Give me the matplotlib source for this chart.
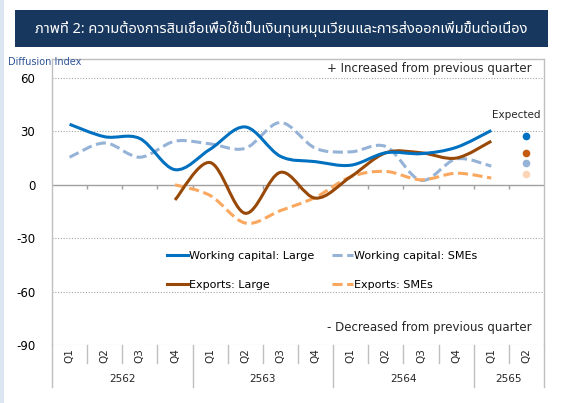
import matplotlib
matplotlib.use('Agg')
import matplotlib.pyplot as plt
import numpy as np
from matplotlib.path import Path
from matplotlib.patches import PathPatch, Rectangle
from matplotlib.lines import Line2D

# quarters 2562 Q1 .. 2565 Q2
quarters = ['Q1', 'Q2', 'Q3', 'Q4', 'Q1', 'Q2', 'Q3', 'Q4',
            'Q1', 'Q2', 'Q3', 'Q4', 'Q1', 'Q2']
years = ['2562', '2563', '2564', '2565']
year_sizes = [4, 4, 4, 2]

# working capital series start at 2562 Q1, exports at 2562 Q4
wc_large = [34, 27, 26, 8.5, 20, 32.5, 16, 13, 11, 18, 17.5, 21, 30.5]
wc_sme = [15.5, 23.5, 15.5, 24.5, 23, 20.5, 35, 20.5, 18.5, 21.5, 2.5, 14.5, 10.5]
exp_large = [-8.5, 12.5, -16, 7, -7.5, 4.5, 18, 18, 15, 24.5]
exp_sme = [0, -6, -21.5, -14.5, -7, 4.5, 7.5, 2.8, 6.5, 3.8]
exp_start = 3

# expected values for 2565 Q2
expected = {'wc_large': 27.5, 'exp_large': 18, 'wc_sme': 12, 'exp_sme': 6}

C_WCL = '#0070C0'
C_WCS = '#95B3D7'
C_EXL = '#984807'
C_EXS = '#FAA75F'
C_GRID = '#A6A6A6'

W, H = 563, 403
plt.rcParams['font.family'] = ['DejaVu Sans']
THAI = ['Noto Sans Thai', 'Tahoma', 'Loma', 'Garuda', 'Norasi', 'Waree', 'DejaVu Sans']


def fx(px):
    return px / W


def fy(py):
    return 1 - py / H


def smooth_path(x, y):
    # smoothed line like in Excel: cubic bezier between the points
    pts = np.column_stack([x, y]).astype(float)
    n = len(pts)
    verts = [pts[0]]
    codes = [Path.MOVETO]
    for i in range(n - 1):
        p0 = pts[i - 1] if i > 0 else pts[i]
        p1, p2 = pts[i], pts[i + 1]
        p3 = pts[i + 2] if i + 2 < n else pts[i + 1]
        verts += [p1 + (p2 - p0) / 6, p2 - (p3 - p1) / 6, p2]
        codes += [Path.CURVE4] * 3
    return Path(verts, codes)


fig = plt.figure(figsize=(W / 100, H / 100), dpi=100)
fig.patch.set_facecolor('white')
fig.patches.append(Rectangle((0, 0), fx(4), 1, transform=fig.transFigure,
                             facecolor='#DCE6F2', edgecolor='none'))
# title banner
fig.patches.append(Rectangle((fx(15), fy(47)), fx(533), fy(10) - fy(47),
                             transform=fig.transFigure, facecolor='#17375E',
                             edgecolor='none'))
fig.text(fx(281), fy(29), 'ภาพที่ 2: ความต้องการสินเชื่อเพื่อใช้เป็นเงินทุนหมุนเวียนและการส่งออกเพิ่มขึ้นต่อเนื่อง',
         color='white', fontsize=10.5, ha='center', va='center', family=THAI)

y_top = 60 + (78 - 59) / 1.78
ax = fig.add_axes([fx(52), fy(345), fx(492), fy(59) - fy(345)])
ax.set_xlim(0, len(quarters))
ax.set_ylim(-90, y_top)

for s in ['top', 'left', 'right']:
    ax.spines[s].set_color('#BFBFBF')
    ax.spines[s].set_linewidth(1)
ax.spines['bottom'].set_visible(False)

for v in [60, 30, -30, -60, -90]:
    ax.axhline(v, color=C_GRID, lw=0.8, ls=(0, (1, 1.5)), zorder=1)
ax.axhline(0, color='#A0A0A0', lw=1, zorder=1)
ax.vlines(np.arange(1, len(quarters)), -2.3, 0, color='#A0A0A0', lw=1, zorder=1)

ax.set_yticks([60, 30, 0, -30, -60, -90])
ax.set_yticklabels(['60', '30', '0', '-30', '-60', '-90'])
ax.tick_params(axis='y', length=0, pad=12, labelsize=8.5)
ax.set_xticks([])

# category axis below the plot
bottom_long = (345 - 387) / 286
bottom_short = (345 - 363) / 286
tr = ax.get_xaxis_transform()
edges = np.cumsum([0] + year_sizes)
for b in range(len(quarters) + 1):
    low = bottom_long if b in edges else bottom_short
    ax.plot([b, b], [0, low], transform=tr, color='#BFBFBF', lw=1, clip_on=False)
for i, q in enumerate(quarters):
    ax.text(i + 0.5, -0.0385, q, transform=tr, rotation=90, ha='center', va='center',
            fontsize=7.5, color='#262626')
for k, yr in enumerate(years):
    ax.text((edges[k] + edges[k + 1]) / 2, -0.119, yr, transform=tr, ha='center',
            va='center', fontsize=7.5, color='#262626')

x_wc = np.arange(len(wc_large)) + 0.5
x_ex = np.arange(len(exp_large)) + exp_start + 0.5
dash = (0, (3.3, 1.5))
series = [
    (x_wc, wc_sme, C_WCS, dash),
    (x_ex, exp_sme, C_EXS, dash),
    (x_ex, exp_large, C_EXL, '-'),
    (x_wc, wc_large, C_WCL, '-'),
]
for xs, ys, c, ls in series:
    ax.add_patch(PathPatch(smooth_path(xs, ys), fill=False, edgecolor=c, lw=2.2,
                           linestyle=ls, zorder=3))

xe = len(quarters) - 0.5
for key, c in [('wc_large', C_WCL), ('exp_large', '#C55A11'), ('wc_sme', C_WCS),
               ('exp_sme', '#FBD5B5')]:
    ax.plot([xe], [expected[key]], 'o', color=c, ms=5.5, mec='none', zorder=4)
ax.text(13.22, 39, 'Expected', ha='center', va='center', fontsize=7.5, color='#262626')

ax.text(13.66, 65.5, '+ Increased from previous quarter', ha='right', va='center',
        fontsize=8.5, color='#262626')
ax.text(13.66, -80, '- Decreased from previous quarter', ha='right', va='center',
        fontsize=8.5, color='#262626')

handles = [
    Line2D([], [], color=C_WCL, lw=2.2),
    Line2D([], [], color=C_EXL, lw=2.2),
    Line2D([], [], color=C_WCS, lw=2.2, ls=dash),
    Line2D([], [], color=C_EXS, lw=2.2, ls=dash),
]
labels = ['Working capital: Large', 'Exports: Large',
          'Working capital: SMEs', 'Exports: SMEs']
ax.legend(handles, labels, ncol=2, loc='upper left', bbox_to_anchor=(0.233, 0.33),
          frameon=False, fontsize=8, handlelength=1.9, handletextpad=0.1,
          columnspacing=1.6, labelspacing=1.75, borderpad=0, borderaxespad=0)

fig.text(fx(8), fy(62), 'Diffusion Index', fontsize=7, color='#2F5597', ha='left', va='center')

fig.savefig('out.png', dpi=100)
